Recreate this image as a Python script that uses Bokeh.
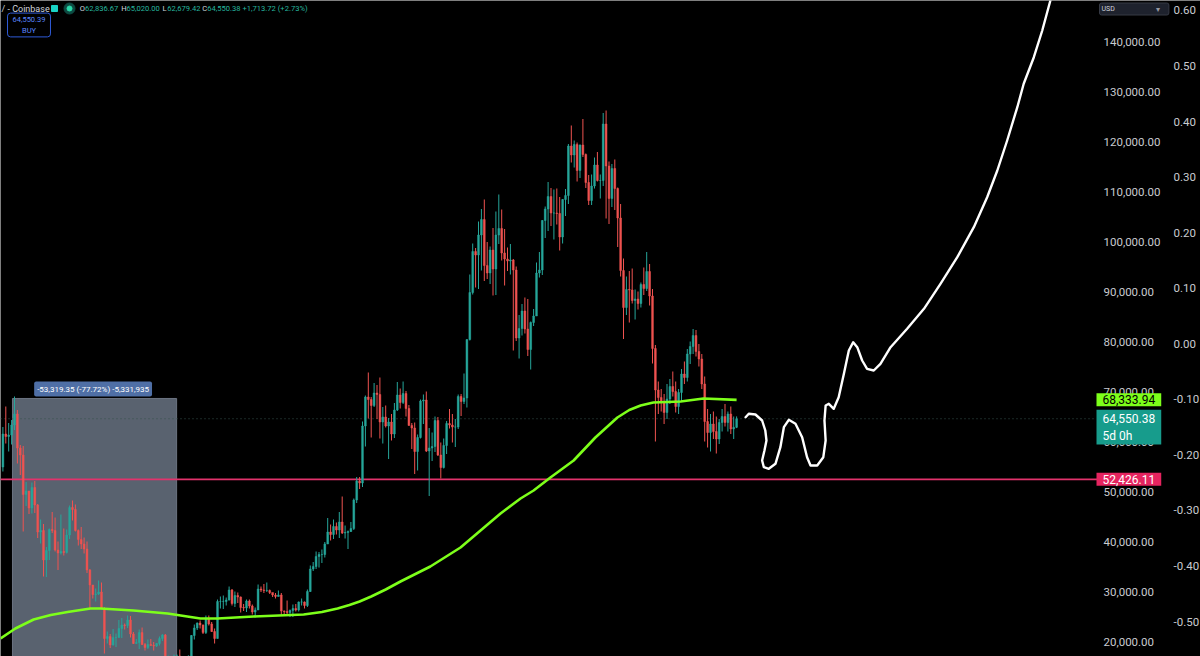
import pandas as pd
from bokeh.plotting import figure
from bokeh.models import (Range1d, LinearAxis, FixedTicker, NumeralTickFormatter,
                          Label, ColumnDataSource)
from bokeh.embed import file_html
from bokeh.resources import INLINE

# ---------------- data (BTC/USD weekly, Coinbase; values in thousands of USD) ----------------
first_week = "2021-10-11"
first_open_k = 54.9
close_k = [
    61.5, 61.0, 61.3, 63.3, 65.5, 58.7, 57.3, 49.4, 50.1, 46.7,
    50.8, 47.3, 41.9, 42.2, 36.3, 38.2, 42.4, 42.2, 38.3, 37.7,
    38.0, 37.8, 41.3, 46.8, 46.4, 42.2, 40.4, 39.5, 38.5, 34.3,
    31.3, 29.4, 29.5, 29.9, 26.6, 20.6, 21.0, 19.3, 20.8, 20.8,
    22.6, 23.3, 23.2, 24.3, 21.5, 19.6, 19.8, 21.8, 19.4, 18.8,
    19.4, 19.2, 19.1, 19.6, 20.6, 21.3, 16.3, 16.3, 16.4, 17.1,
    17.1, 16.8, 16.8, 16.6, 17.1, 21.2, 22.7, 23.7, 23.3, 21.8,
    24.6, 23.5, 22.0, 20.6, 28.0, 28.0, 28.0, 28.3, 30.3, 27.6,
    29.2, 28.9, 26.8, 26.7, 28.1, 27.1, 25.9, 26.3, 30.5, 30.3,
    30.2, 30.2, 29.8, 29.3, 29.0, 29.3, 26.1, 26.0, 25.8, 26.2,
    26.6, 26.3, 27.9, 27.9, 27.2, 30.0, 34.5, 35.0, 37.0, 37.4,
    37.4, 39.5, 41.9, 41.4, 43.0, 42.3, 43.9, 41.7, 41.8, 42.0,
    42.6, 48.3, 52.1, 51.7, 63.1, 68.9, 68.4, 67.2, 69.7, 69.4,
    63.9, 64.9, 63.1, 63.9, 61.5, 66.3, 69.3, 67.8, 69.6, 66.6,
    63.2, 62.7, 58.0, 60.8, 68.1, 68.3, 58.1, 58.7, 59.0, 64.2,
    57.3, 54.8, 59.2, 63.6, 63.3, 62.9, 62.9, 69.0, 68.0, 68.7,
    80.4, 89.8, 98.0, 97.3, 101.3, 104.4, 95.2, 93.7, 98.3, 94.5,
    101.3, 102.6, 97.7, 96.5, 96.1, 96.3, 94.3, 80.7, 82.6, 86.1,
    82.5, 78.4, 83.8, 85.1, 93.7, 94.3, 104.2, 106.5, 109.0, 105.7,
    105.7, 105.6, 100.9, 108.4, 109.2, 119.1, 117.3, 119.4, 114.2, 119.3,
    117.4, 111.8, 108.2, 111.1, 115.3, 112.2, 112.2, 123.5, 115.1, 108.6,
    114.6, 110.6, 104.7, 94.2, 86.8, 90.4, 90.3, 88.2, 88.5, 87.6,
    91.4, 90.6, 94.0, 89.1, 78.6, 70.3, 68.8, 67.8, 65.8, 68.5,
    71.0, 70.0, 67.0, 69.8, 73.5, 72.8, 77.5, 79.0, 81.2, 78.0,
    76.5, 71.5, 64.0, 61.8, 63.5, 62.0, 60.5, 63.8, 65.0, 63.8,
    65.5, 62.5, 62.83667, 64.55038,
]
high_k = [
    62.9, 67.0, 63.7, 64.3, 69.0, 66.3, 59.3, 59.1, 51.9, 50.1,
    51.8, 52.1, 47.5, 44.4, 43.5, 38.9, 42.6, 45.9, 44.8, 40.0,
    45.4, 42.6, 42.4, 47.2, 48.2, 47.4, 42.4, 42.9, 40.8, 40.0,
    34.5, 31.3, 30.6, 32.2, 31.8, 26.9, 22.0, 21.5, 22.5, 21.6,
    24.3, 24.7, 23.6, 25.2, 25.1, 21.9, 20.5, 22.4, 22.8, 19.7,
    20.4, 20.5, 19.9, 19.7, 21.0, 21.5, 21.5, 17.2, 16.8, 17.4,
    17.4, 18.4, 17.1, 16.9, 17.2, 21.3, 23.4, 23.8, 24.2, 23.4,
    25.2, 25.2, 23.9, 22.6, 28.4, 29.0, 29.2, 28.8, 31.0, 30.5,
    30.0, 29.8, 29.0, 27.5, 28.4, 28.4, 27.4, 26.8, 31.4, 31.0,
    31.5, 31.8, 30.4, 29.6, 29.7, 30.2, 29.7, 26.2, 28.2, 26.4,
    27.4, 27.5, 28.0, 28.6, 28.0, 30.4, 35.2, 35.9, 38.0, 37.9,
    38.4, 39.9, 44.7, 43.4, 44.4, 43.8, 45.9, 49.0, 43.2, 42.2,
    43.9, 48.6, 52.9, 52.9, 64.0, 69.2, 73.8, 68.9, 71.7, 71.3,
    72.8, 66.9, 67.2, 64.7, 65.5, 67.7, 71.9, 70.6, 72.0, 70.1,
    67.3, 63.7, 63.8, 61.4, 68.4, 69.4, 70.0, 62.7, 61.8, 65.0,
    64.9, 59.8, 60.6, 64.1, 66.5, 65.5, 64.5, 69.4, 69.5, 73.6,
    80.4, 93.4, 99.6, 98.7, 104.0, 106.5, 108.4, 99.9, 99.0, 102.7,
    106.0, 109.4, 106.4, 102.5, 98.8, 99.5, 96.5, 95.0, 85.3, 87.5,
    88.8, 88.5, 84.0, 86.5, 95.8, 97.9, 104.3, 107.0, 111.9, 110.7,
    110.4, 110.6, 108.9, 108.5, 110.5, 119.5, 123.2, 120.2, 119.8, 119.4,
    124.5, 117.6, 113.3, 113.4, 116.8, 117.9, 113.4, 125.7, 126.2, 116.0,
    115.5, 116.4, 110.8, 107.5, 96.6, 93.0, 94.1, 94.6, 90.4, 90.0,
    91.8, 94.8, 97.9, 95.5, 90.5, 79.3, 72.0, 70.5, 69.5, 71.5,
    72.5, 74.0, 72.0, 70.5, 74.5, 76.0, 78.5, 80.0, 82.5, 82.3,
    79.5, 77.5, 73.0, 66.5, 65.5, 66.0, 65.0, 64.5, 66.5, 67.5,
    66.0, 67.0, 65.0, 65.02,
]
low_k = [
    54.0, 59.6, 58.0, 59.4, 62.3, 55.6, 53.3, 42.0, 47.1, 45.5,
    45.6, 45.7, 40.7, 39.6, 33.0, 32.9, 36.3, 41.7, 38.0, 34.3,
    37.4, 37.2, 37.6, 40.5, 44.2, 42.0, 39.2, 38.5, 37.6, 33.7,
    26.7, 28.6, 28.0, 29.3, 26.5, 17.6, 19.6, 18.7, 19.2, 18.9,
    20.8, 20.7, 22.4, 22.7, 20.8, 19.5, 19.6, 18.5, 19.3, 18.2,
    18.5, 19.2, 18.2, 18.9, 19.2, 20.1, 15.6, 16.1, 15.5, 16.0,
    16.7, 16.3, 16.3, 16.3, 16.5, 17.1, 20.4, 22.3, 22.6, 21.5,
    21.5, 23.2, 21.9, 19.6, 20.6, 26.6, 26.5, 27.2, 28.2, 27.2,
    26.9, 27.7, 25.8, 26.1, 25.9, 26.6, 25.4, 24.8, 26.3, 29.9,
    29.7, 29.9, 29.5, 28.9, 28.6, 29.0, 25.2, 25.4, 25.4, 24.9,
    24.9, 26.0, 26.0, 27.2, 26.6, 26.9, 29.9, 34.1, 34.5, 34.8,
    35.7, 36.8, 39.5, 40.2, 40.5, 41.4, 40.7, 41.5, 40.6, 38.5,
    41.9, 42.3, 47.7, 50.5, 50.9, 59.0, 64.6, 60.8, 66.9, 64.5,
    60.6, 59.6, 62.8, 56.5, 60.2, 60.7, 66.1, 66.6, 67.5, 65.0,
    63.2, 58.5, 53.5, 54.2, 60.6, 63.5, 57.9, 49.1, 56.1, 57.9,
    57.1, 52.6, 54.6, 57.5, 62.6, 59.8, 58.9, 62.5, 65.1, 67.5,
    66.8, 80.2, 89.4, 90.8, 90.5, 94.2, 92.1, 92.5, 91.5, 89.2,
    89.3, 99.5, 96.2, 91.2, 94.1, 93.4, 78.2, 80.1, 76.6, 81.2,
    81.6, 77.1, 74.4, 83.1, 85.1, 92.8, 93.3, 100.7, 102.1, 103.1,
    100.4, 103.4, 98.2, 99.6, 105.1, 107.5, 115.8, 114.8, 112.0, 112.7,
    116.9, 110.7, 107.3, 107.3, 110.6, 112.0, 108.6, 111.1, 104.6, 103.5,
    106.9, 106.3, 98.9, 93.0, 80.5, 85.3, 83.8, 87.6, 84.4, 86.4,
    86.8, 89.3, 90.1, 87.2, 75.6, 60.0, 65.5, 66.0, 63.5, 64.5,
    67.5, 69.0, 65.8, 65.5, 68.0, 71.5, 72.0, 75.5, 77.5, 77.0,
    75.0, 70.5, 60.0, 58.8, 58.0, 60.5, 57.6, 59.5, 62.0, 63.0,
    62.0, 61.5, 60.5, 62.67942,
]

# slow moving average (green): week index, value (k USD)
ma_week = [-0.8, 4.3, 10.6, 16.5, 22.3, 30.2, 33.7, 45.0, 56.8, 68.1, 74.0, 86.4, 103.7,
           110.0, 115.4, 119.5, 123.0, 127.0, 132.0, 137.1, 147.4, 157.8, 164.7, 171.6,
           178.5, 183.0, 188.8, 196.8, 204.3, 211.9, 216.0, 219.9, 224.3, 233.7, 241.6,
           253.0]
ma_k = [20.6, 22.6, 24.4, 25.3, 25.9, 26.6, 26.6, 26.2, 25.6, 24.6, 24.6, 25.0, 25.4,
        25.9, 26.6, 27.3, 28.0, 29.0, 30.4, 32.0, 35.0, 38.8, 42.2, 45.6,
        48.6, 50.2, 52.8, 56.2, 60.8, 64.8, 66.3, 67.2, 67.8, 68.0, 68.6,
        68.33394]

# hand-drawn projection (white), week index, value (k USD)
path_week = [256.1, 257.2, 259.5, 261.8, 262.9, 263.3, 262.6, 261.8, 262.4, 264.1,
             266.4, 268.1, 269.3, 271.0, 273.3, 275.6, 277.3, 278.5, 280.8, 282.9,
             283.7, 283.3, 283.7, 284.8, 286.5, 288.2, 290.0, 291.7, 293.2, 294.6,
             296.3, 298.0, 300.3, 302.6, 306.1, 311.8, 317.6, 323.3, 329.1, 334.8,
             339.4, 342.9, 346.3, 349.8, 352.0, 355.5, 358.4, 361.2]
path_k = [64.86, 65.54, 65.4, 64.2, 62.2, 60.2, 58.2, 56.2, 54.86, 54.54,
          55.54, 58.86, 62.86, 64.34, 63.54, 60.86, 56.86, 55.2, 55.2, 56.86,
          60.2, 64.2, 67.2, 67.54, 66.54, 68.86, 73.54, 78.2, 79.86, 78.86,
          76.2, 74.54, 74.2, 75.54, 78.86, 82.54, 86.54, 91.54, 96.86, 102.86,
          108.86, 114.2, 120.2, 126.86, 131.54, 136.86, 142.2, 148.2]

support_level = 52426.11
ma_last = 68333.94
last_price = 64550.38
bar_countdown = "5d 0h"
ohlc_text = ["62,836.67", "65,020.00", "62,679.42", "64,550.38 +1,713.72 (+2.73%)"]
buy_price = "64,550.39"
measure_from_week, measure_to_week = 3.3, 59.9
measure_high, measure_low = 68604.35, 15285.00
measure_text = "-53,319.35 (-77.72%) -5,331,935"
price_ticks = [20000, 30000, 40000, 50000, 60000, 70000, 80000, 90000,
               100000, 110000, 120000, 130000, 140000]
pct_ticks = [-0.5, -0.4, -0.3, -0.2, -0.1, 0.0, 0.1, 0.2, 0.3, 0.4, 0.5, 0.6]

# ---------------- build ----------------
n = len(close_k)
open_k = [first_open_k] + close_k[:-1]
df = pd.DataFrame({
    "x": list(range(n)),
    "date": pd.date_range(first_week, periods=n, freq="7D"),
    "open": [v * 1000 for v in open_k],
    "high": [v * 1000 for v in high_k],
    "low": [v * 1000 for v in low_k],
    "close": [v * 1000 for v in close_k],
})
df["top"] = df[["open", "close"]].max(axis=1)
df["bottom"] = df[["open", "close"]].min(axis=1)
UP, DOWN = "#26a69a", "#ef5350"
df["color"] = [UP if c >= o else DOWN for o, c in zip(df["open"], df["close"])]
src = ColumnDataSource(df)

# pixel helpers (picture coords -> data coords)
def ix(px):
    return (px - 2.4) / 2.9

def pr(py):
    return 20000 + (641 - py) * 200

W, H = 1200, 656
p = figure(width=W, height=H, output_backend="svg", toolbar_location=None,
           x_range=Range1d(ix(0), ix(W)), y_range=Range1d(pr(H), pr(0)),
           x_axis_location=None, y_axis_location="right",
           background_fill_color="#000000", border_fill_color="#000000",
           min_border_left=0, min_border_top=0, min_border_bottom=0, min_border_right=0)
p.outline_line_color = None
p.grid.visible = False

FONT = "Roboto"
AX = "#c9cbd0"

def style_axis(a, standoff):
    a.major_tick_out = 0
    a.major_tick_in = 0
    a.minor_tick_out = 0
    a.minor_tick_in = 0
    a.axis_line_color = None
    a.major_label_standoff = standoff
    a.major_label_text_color = AX
    a.major_label_text_font = FONT
    a.major_label_text_font_size = "11.5px"

ya = p.yaxis[0]
ya.ticker = FixedTicker(ticks=price_ticks)
ya.formatter = NumeralTickFormatter(format="0,0.00")
ya.fixed_location = ix(1093)
style_axis(ya, 10)

p.extra_y_ranges = {"pct": Range1d(-0.5 - 35 / 555.5, 0.6 + 10 / 555.5)}
pa = LinearAxis(y_range_name="pct", ticker=FixedTicker(ticks=pct_ticks),
                formatter=NumeralTickFormatter(format="0.00"), fixed_location=ix(1163))
style_axis(pa, 10)
p.add_layout(pa, "right")

# measurement box (under candles)
p.quad(left=[measure_from_week], right=[measure_to_week], top=[measure_high],
       bottom=[measure_low], fill_color="#59626f", fill_alpha=1.0, line_color="#6b7482",
       line_width=1)

# current price dotted line and support line
p.segment(x0=[ix(0)], x1=[ix(1093)], y0=[last_price], y1=[last_price],
          line_color="#35524c", line_dash="1 3", line_width=1)
p.segment(x0=[ix(0)], x1=[ix(1097)], y0=[support_level], y1=[support_level],
          line_color="#e2336c", line_width=1.6)

# candles
p.segment(x0="x", y0="high", x1="x", y1="low", color="color", line_width=1, source=src)
p.vbar(x="x", width=0.62, top="top", bottom="bottom", fill_color="color",
       line_color="color", line_width=0.5, source=src)

# moving average
p.line(ma_week, [v * 1000 for v in ma_k], line_color="#7dff1a",
       line_width=2.6, line_join="round")

# hand-drawn projection
p.line(path_week, [v * 1000 for v in path_k], line_color="#ffffff", line_width=2.4,
       line_join="round", line_cap="round")

# measure label
p.add_layout(Label(x=(measure_from_week + measure_to_week) / 2 - 0.5, y=pr(388.5),
                   text=measure_text, text_align="center", text_baseline="middle",
                   text_color="#ffffff", text_font=FONT, text_font_size="8px",
                   background_fill_color="#4f6fa6", padding=3, border_radius=2))

# header
hy = pr(8)
p.add_layout(Label(x=ix(1), y=hy, text="/ - Coinbase", text_baseline="middle",
                   text_color="#d1d4dc", text_font=FONT, text_font_size="9px"))
p.scatter([ix(54)], [hy], marker="square", size=6, color="#19d3c5")
p.scatter([ix(69)], [hy], marker="circle", size=11, color="#0d4a42")
p.scatter([ix(69)], [hy], marker="circle", size=5, color="#2bd9a9")
xs_letter = [79.3, 120.7, 162.0, 201.7]
xs_value = [84.5, 126.0, 166.7, 206.7]
for letter, lx, vx, txt in zip("OHLC", xs_letter, xs_value, ohlc_text):
    p.add_layout(Label(x=ix(lx), y=hy, text=letter, text_baseline="middle",
                       text_color="#d1d4dc", text_font=FONT, text_font_size="7.6px"))
    p.add_layout(Label(x=ix(vx), y=hy, text=txt, text_baseline="middle",
                       text_color="#26b59f", text_font=FONT, text_font_size="7.6px"))
p.add_layout(Label(x=ix(28.5), y=pr(24.5), text=buy_price + "\nBUY", text_align="center",
                   text_baseline="middle", text_color="#5b87ff", text_font=FONT,
                   text_font_size="7.5px", background_fill_color="#000000",
                   border_line_color="#2f5bd8", border_line_width=1, padding=(5, 2),
                   border_radius=3))

# right-hand price tags
tx = ix(1096)
p.add_layout(Label(x=tx, y=ma_last, text=f"{ma_last:,.2f}", text_baseline="middle",
                   text_color="#000000", text_font=FONT, text_font_size="12px",
                   background_fill_color="#7dff1a", padding=(6, 2)))
p.add_layout(Label(x=tx, y=last_price, y_offset=9, text=f"{last_price:,.2f}\n{bar_countdown}",
                   text_baseline="top", text_color="#ffffff", text_font=FONT,
                   text_font_size="12px", background_fill_color="#179c8c", padding=(6, 2)))
p.add_layout(Label(x=tx, y=support_level, text=f"{support_level:,.2f}",
                   text_baseline="middle", text_color="#ffffff", text_font=FONT,
                   text_font_size="12px", background_fill_color="#e5245f", padding=(6, 2)))
p.add_layout(Label(x=ix(1099), y=pr(8.5), text="USD" + " " * 30, text_baseline="middle",
                   text_color="#d1d4dc", text_font=FONT, text_font_size="7px",
                   background_fill_color="#1e222d", border_line_color="#363a45",
                   padding=2, border_radius=2))
p.add_layout(Label(x=ix(1155), y=pr(8.5), text="▾", text_baseline="middle",
                   text_color="#9598a1", text_font=FONT, text_font_size="8px"))

open("out.html", "w").write(file_html(p, INLINE))
